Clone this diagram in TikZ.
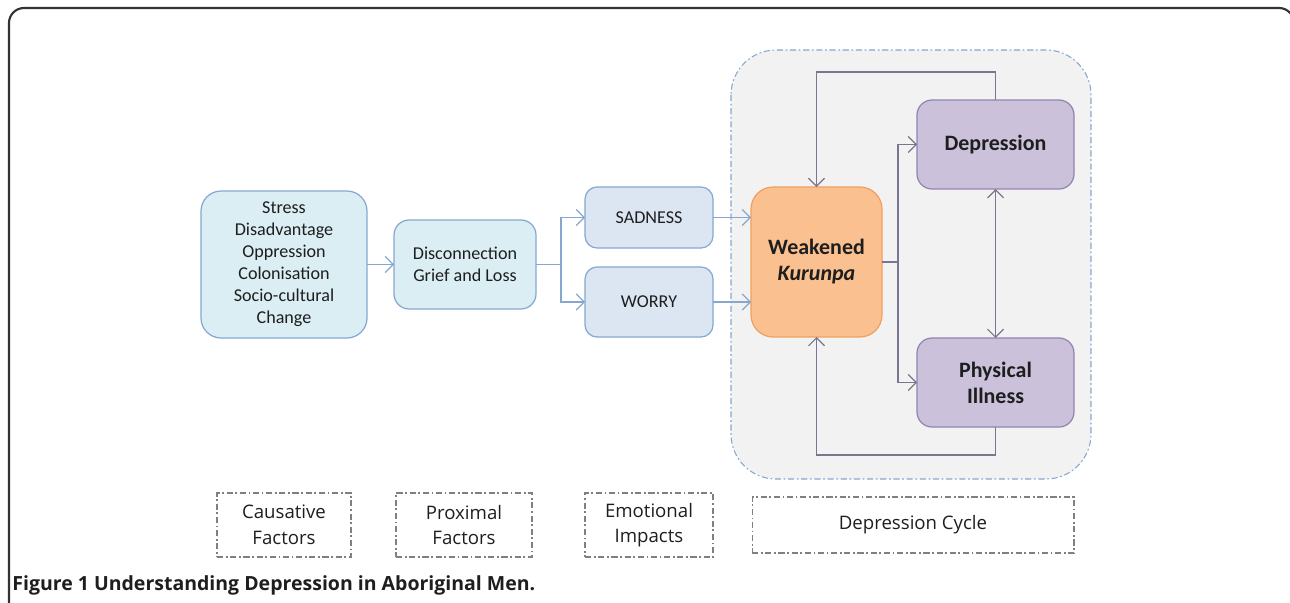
\documentclass[tikz,border=0pt]{standalone}
\usepackage{fontspec}
\setmainfont{Carlito}
\newfontfamily\tagfont{Open Sans}
\usetikzlibrary{arrows.meta}

\definecolor{cyanfill}{HTML}{DBEEF4}
\definecolor{blueline}{HTML}{86A8D0}
\definecolor{bluefill}{HTML}{DCE6F2}
\definecolor{orangefill}{HTML}{FAC090}
\definecolor{orangeline}{HTML}{F0A060}
\definecolor{purplefill}{HTML}{CCC1DA}
\definecolor{purpleline}{HTML}{9384AE}
\definecolor{cyclearrow}{HTML}{7D7590}
\definecolor{cyclefill}{HTML}{F2F2F2}
\definecolor{txt}{HTML}{1E1E1E}

\begin{document}
\begin{tikzpicture}[x=0.02cm,y=-0.02cm,
    >={Straight Barb[length=1.6mm,width=3.2mm]},
    box/.style={draw, align=center, inner sep=0pt, outer sep=0pt, line width=0.7pt, text=txt},
    tag/.style={draw=gray, dash pattern=on 3.5pt off 1.5pt on 1pt off 1.5pt, line width=0.6pt, align=center,
        inner sep=0pt, text=txt, font=\tagfont\fontsize{10.6}{14.6}\selectfont},
    barrow/.style={->, draw=blueline, line width=0.7pt},
    parrow/.style={->, draw=cyclearrow, line width=0.7pt}]
    \useasboundingbox (0,0) rectangle (1290,602);

    % frame and cycle area
    \draw[line width=1.2pt, black!80, rounded corners=0.3cm] (9,8) rectangle (1294,660);
    \draw[fill=cyclefill, draw=blueline, dash pattern=on 3.5pt off 1.5pt on 1pt off 1.5pt, line width=0.6pt,
        rounded corners=0.9cm] (731,50) rectangle (1091,479);

    \node[box, fill=cyanfill, draw=blueline, rounded corners=0.4cm, minimum width=3.32cm, minimum height=2.94cm,
        font=\fontsize{10.3}{12.5}\selectfont] (1) at (284,264.5)
        {Stress\\Disadvantage\\Oppression\\Colonisation\\Socio-cultural\\Change};
    \node[box, fill=cyanfill, draw=blueline, rounded corners=0.3cm, minimum width=2.84cm, minimum height=1.78cm,
        font=\fontsize{10.3}{12.5}\selectfont] (2) at (465,264.5) {Disconnection\\Grief and Loss};
    \node[box, fill=bluefill, draw=blueline, rounded corners=0.24cm, minimum width=2.56cm, minimum height=1.22cm,
        font=\fontsize{10.3}{12.5}\selectfont] (3) at (649,217.5) {SADNESS};
    \node[box, fill=bluefill, draw=blueline, rounded corners=0.24cm, minimum width=2.56cm, minimum height=1.40cm,
        font=\fontsize{10.3}{12.5}\selectfont] (4) at (649,302) {WORRY};
    \node[box, fill=orangefill, draw=orangeline, rounded corners=0.44cm, minimum width=2.62cm, minimum height=3.0cm,
        font=\bfseries\fontsize{12.5}{14.8}\selectfont] (5) at (816.5,262) {Weakened\\\textit{Kurunpa}};
    \node[box, fill=purplefill, draw=purpleline, rounded corners=0.3cm, minimum width=3.14cm, minimum height=1.78cm,
        font=\bfseries\fontsize{12.5}{14.8}\selectfont] (6) at (995.5,144.5) {Depression};
    \node[box, fill=purplefill, draw=purpleline, rounded corners=0.3cm, minimum width=3.14cm, minimum height=1.78cm,
        font=\bfseries\fontsize{12.5}{14.8}\selectfont] (7) at (995.5,382.5) {Physical\\Illness};

    \node[tag, minimum width=2.68cm, minimum height=1.28cm] (8) at (284,525) {Causative\\Factors};
    \node[tag, minimum width=2.72cm, minimum height=1.28cm] (9) at (464,525) {Proximal\\Factors};
    \node[tag, minimum width=2.56cm, minimum height=1.28cm] (10) at (649,525) {Emotional\\Impacts};
    \node[tag, minimum width=6.44cm, minimum height=1.12cm] (11) at (913,525) {Depression Cycle};

    \node[anchor=base west, inner sep=0pt, text=txt, font=\tagfont\bfseries\fontsize{11.1}{14}\selectfont]
        (cap) at (12,590) {Figure 1 Understanding Depression in Aboriginal Men.};

    %Arrows
    \coordinate (j1) at (561,264.5);
    \coordinate (j2) at (898,262);
    \draw[barrow] (1) -- (2);
    \draw[blueline, line width=0.7pt] (2) -- (j1);
    \draw[barrow] (j1) |- (3.west);
    \draw[barrow] (j1) |- (4.west);
    \draw[barrow] (3.east) -- (3.east -| 5.west);
    \draw[barrow] (4.east) -- (4.east -| 5.west);

    \draw[cyclearrow, line width=0.7pt] (5.east |- j2) -- (j2);
    \draw[parrow] (j2) |- (6.west);
    \draw[parrow] (j2) |- (7.west);
    \draw[parrow, <->] (6) -- (7);
    \draw[parrow] (6.north) -- ++(0,-28) -| (5.north);
    \draw[parrow] (7.south) -- ++(0,28) -| (5.south);
\end{tikzpicture}
\end{document}
